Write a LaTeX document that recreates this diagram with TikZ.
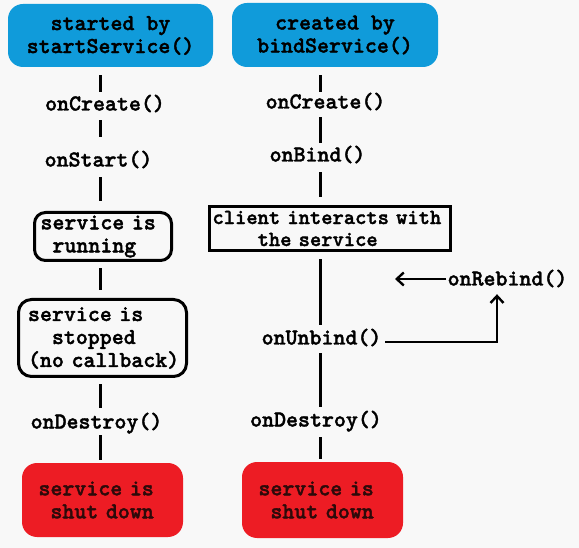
\documentclass[tikz,border=0pt]{standalone}
\usepackage{fontspec}
\newfontfamily\courf{lmmonolt10-bold.otf}[FakeBold=1.6,WordSpace={1,0,0}]
\usetikzlibrary{arrows.meta}
\definecolor{bgc}{RGB}{248,248,248}
\definecolor{blueb}{RGB}{16,155,218}
\definecolor{redb}{RGB}{237,28,36}
\definecolor{redtxt}{RGB}{45,10,10}
\begin{document}
\begin{tikzpicture}[x=1pt,y=-1pt,
  every node/.style={font=\fontsize{22.8}{23}\selectfont\courf, inner sep=0pt},
  lbl/.style={text height=14pt, text depth=3pt},
  bluebox/.style={fill=blueb, rounded corners=15pt, align=center},
  redbox/.style={fill=redb, rounded corners=15pt, align=left, text=redtxt, text width=161pt, minimum width=161pt},
  statebox/.style={draw, line width=3pt, rounded corners=11pt, align=left},
  conn/.style={line width=3pt},
  arr/.style={line width=2pt, -{Straight Barb[length=7pt,width=13pt,line width=2.4pt]}}
]
\fill[bgc] (0,0) rectangle (579,548);
\useasboundingbox (0,0) rectangle (579,548);
\coordinate (L) at (100,0);
\coordinate (R) at (320,0);
\coordinate (rb) at (395,279);

% left column
\node[bluebox, minimum width=205pt, minimum height=63pt] (blue1) at (110.5,35.5) {started by\\startService()};
\node[lbl] (oc1) at (105,105) {onCreate()};
\node[lbl] (os1) at (98.5,161) {onStart()};
\node[statebox, text width=137pt, minimum height=48pt] (run) at (103,236.5)
  {\hspace*{6pt}service is\\\hspace*{6pt}\hphantom{x}running};
\node[statebox, rounded corners=13pt, text width=168pt, minimum height=77pt] (stop) at (102.5,338)
  {\hspace*{9.5pt}service is\\\hspace*{9.5pt}\hphantom{xx}stopped\\\hspace*{9.5pt}(no callback)};
\node[lbl] (od1) at (96.5,423) {onDestroy()};
\node[redbox, minimum height=74pt] (red1) at (102.5,500)
  {\hspace*{16.5pt}service is\\\hspace*{16.5pt}\hphantom{x}shut down};

% right column
\node[bluebox, minimum width=206pt, minimum height=64pt] (blue2) at (335,35) {created by\\bindService()};
\node[lbl] (oc2) at (325.5,103) {onCreate()};
\node[lbl] (ob2) at (317.5,156) {onBind()};
\node[draw, line width=3pt, align=left, text width=241pt, minimum height=44pt,
      font=\fontsize{21.5}{22}\selectfont\courf] (client) at (330,228.5)
  {\hspace*{3pt}client interacts with\\\hspace*{3pt}\hphantom{xxxx}the service};
\node[lbl] (ou2) at (321.5,339) {onUnbind()};
\node[lbl] (od2) at (316,421) {onDestroy()};
\node[redbox, minimum height=76pt] (red2) at (322.5,500)
  {\hspace*{16.5pt}service is\\\hspace*{16.5pt}\hphantom{x}shut down};
\node[lbl] (orb) at (507.5,280) {onRebind()};

% left connectors
\draw[conn, shorten <=8pt, shorten >=4.5pt] (blue1.south -| L) -- (oc1.north -| L);
\draw[conn, shorten <=6.5pt, shorten >=15.5pt] (oc1.south -| L) -- (os1.north -| L);
\draw[conn, shorten <=7.5pt, shorten >=9.5pt] (os1.south -| L) -- (run.north -| L);
\draw[conn, shorten <=6.5pt, shorten >=7.5pt] (run.south -| L) -- (stop.north -| L);
\draw[conn, shorten <=6.5pt, shorten >=6.5pt] (stop.south -| L) -- (od1.north -| L);
\draw[conn, shorten <=3.5pt, shorten >=3pt] (od1.south -| L) -- (red1.north -| L);

% right connectors
\draw[conn, shorten <=8pt, shorten >=2.5pt] (blue2.south -| R) -- (oc2.north -| R);
\draw[conn, shorten <=5.5pt, shorten >=4.5pt] (oc2.south -| R) -- (ob2.north -| R);
\draw[conn, shorten <=7.5pt, shorten >=7.5pt] (ob2.south -| R) -- (client.north -| R);
\draw[conn, shorten <=7.5pt, shorten >=5.5pt] (client.south -| R) -- (ou2.north -| R);
\draw[conn, shorten <=5.5pt, shorten >=5.5pt] (ou2.south -| R) -- (od2.north -| R);
\draw[conn, shorten <=7.5pt, shorten >=3pt] (od2.south -| R) -- (red2.north -| R);

% rebind arrows
\draw[arr, shorten <=3.5pt, shorten >=5.5pt] ([yshift=-3pt]ou2.east) -| ([xshift=-10.5pt]orb.south);
\draw[arr, shorten <=1pt] ([yshift=1pt]orb.west) -- (rb);
\end{tikzpicture}
\end{document}
